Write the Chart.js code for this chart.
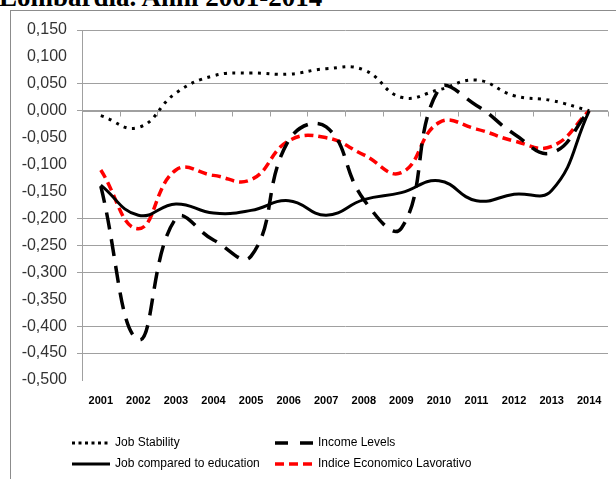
<!DOCTYPE html>
<html>
<head>
<meta charset="utf-8">
<script src="https://cdn.jsdelivr.net/npm/chart.js"></script>
<style>
  html, body { margin: 0; padding: 0; background: #fff; overflow: hidden; }
  #wrap { position: relative; width: 616px; height: 479px; }
  #title { position: absolute; left: -1px; top: -16px; font: bold 27px "Liberation Serif", serif; line-height: 27px; color: #000; white-space: nowrap; }
  #frame { position: absolute; left: 10px; top: 10px; width: 620px; height: 480px; border: 1px solid #8c8c8c; box-sizing: border-box; }
  canvas { position: absolute; left: 0; top: 0; }
</style>
</head>
<body>
<div id="wrap">
  <div id="title">Lombardia. Anni 2001-2014</div>
  <div id="frame"></div>
  <canvas id="chart" width="616" height="479"></canvas>
</div>
<script>
var years = ['2001','2002','2003','2004','2005','2006','2007','2008','2009','2010','2011','2012','2013','2014'];
var jobStability = [-0.009, -0.031, 0.033, 0.065, 0.070, 0.068, 0.078, 0.076, 0.025, 0.039, 0.057, 0.028, 0.019, 0.000];
var incomeLevels = [-0.140, -0.425, -0.200, -0.240, -0.270, -0.055, -0.030, -0.165, -0.218, 0.040, 0.010, -0.043, -0.078, 0.000];
var jobEducation = [-0.138, -0.194, -0.173, -0.190, -0.185, -0.167, -0.194, -0.165, -0.152, -0.130, -0.167, -0.155, -0.148, 0.000];
var indiceEconomico = [-0.110, -0.219, -0.110, -0.120, -0.128, -0.056, -0.050, -0.082, -0.115, -0.022, -0.034, -0.056, -0.066, 0.000];
// gridlines that are visible in the picture
var shownGrid = [0.15, 0.05, 0, -0.2, -0.25, -0.3, -0.4, -0.45];

var gridGray = '#a0a0a0';

// x axis crosses at zero: line + tick marks between categories
var zeroAxis = {
  id: 'zeroAxis',
  beforeDatasetsDraw: function (chart) {
    var ctx = chart.ctx, x = chart.scales.x, y = chart.scales.y;
    var y0 = Math.round(y.getPixelForValue(0)) + 0.5;
    ctx.save();
    ctx.strokeStyle = gridGray;
    ctx.lineWidth = 1;
    ctx.beginPath();
    ctx.moveTo(chart.chartArea.left, y0);
    ctx.lineTo(chart.chartArea.right, y0);
    for (var i = 0; i <= years.length; i++) {
      var px = Math.round(x.getPixelForValue(i - 0.5)) + 0.5;
      ctx.moveTo(px, y0);
      ctx.lineTo(px, y0 + 5);
    }
    ctx.stroke();
    ctx.restore();
  }
};

// two column legend under the axis labels
var legendBox = {
  id: 'legendBox',
  afterDraw: function (chart) {
    var ctx = chart.ctx;
    var pos = [[72, 443], [275, 443], [72, 464], [275, 464]];
    ctx.save();
    ctx.font = '12px "Liberation Sans", Arial, sans-serif';
    ctx.textBaseline = 'middle';
    chart.data.datasets.forEach(function (ds, k) {
      var p = pos[k];
      ctx.strokeStyle = ds.borderColor;
      ctx.lineWidth = ds.borderWidth;
      ctx.lineCap = 'butt';
      ctx.setLineDash(ds.legendDash || []);
      ctx.beginPath();
      ctx.moveTo(p[0], p[1]);
      ctx.lineTo(p[0] + 38, p[1]);
      ctx.stroke();
      ctx.setLineDash([]);
      ctx.fillStyle = '#000';
      ctx.fillText(ds.label, p[0] + 43, p[1]);
    });
    ctx.restore();
  }
};

new Chart(document.getElementById('chart').getContext('2d'), {
  type: 'line',
  data: {
    labels: years,
    datasets: [
      { label: 'Job Stability', data: jobStability, borderColor: '#000', borderWidth: 3,
        borderDash: [3, 5.5], legendDash: [3, 3.5], tension: 0.45, pointRadius: 0 },
      { label: 'Income Levels', data: incomeLevels, borderColor: '#000', borderWidth: 3.5,
        borderDash: [17, 10], legendDash: [13, 12], tension: 0.45, pointRadius: 0 },
      { label: 'Job compared to education', data: jobEducation, borderColor: '#000', borderWidth: 3,
        tension: 0.45, pointRadius: 0 },
      { label: 'Indice Economico Lavorativo', data: indiceEconomico, borderColor: '#ff0000', borderWidth: 3.5,
        borderDash: [9, 5], legendDash: [9, 5], tension: 0.45, pointRadius: 0 }
    ]
  },
  options: {
    responsive: false,
    animation: false,
    layout: { padding: { left: 10, top: 30, right: 8, bottom: 69 } },
    plugins: { legend: { display: false }, tooltip: { enabled: false } },
    scales: {
      x: {
        offset: true,
        grid: { display: false, drawTicks: false },
        border: { display: false },
        ticks: { color: '#000', padding: 14, maxRotation: 0, autoSkip: false,
          font: { family: '"Liberation Sans", Arial, sans-serif', size: 11, weight: 'bold' } },
        afterFit: function (s) { s.height = 30; }
      },
      y: {
        min: -0.5, max: 0.15,
        border: { display: true, color: gridGray, width: 1 },
        grid: {
          tickLength: 5,
          color: function (c) {
            var v = c.tick ? c.tick.value : null;
            var on = shownGrid.some(function (g) { return v !== null && Math.abs(g - v) < 1e-6; });
            return on ? gridGray : 'rgba(0,0,0,0)';
          }
        },
        ticks: {
          stepSize: 0.05, padding: 10, color: '#333',
          font: { family: '"Liberation Sans", Arial, sans-serif', size: 16 },
          callback: function (v) {
            if (Math.abs(v) < 1e-9) v = 0;
            return v.toFixed(3).replace('.', ',');
          }
        },
        afterFit: function (s) { s.width = 72; }
      }
    }
  },
  plugins: [zeroAxis, legendBox]
});
</script>
</body>
</html>
